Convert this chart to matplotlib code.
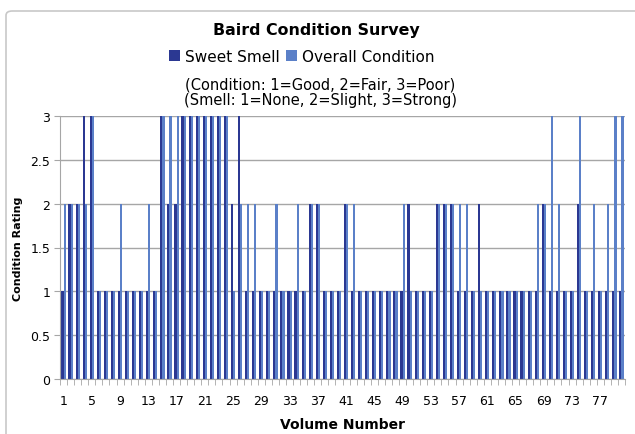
"""
Baird Condition Survey - clustered bar chart of smell and overall condition per volume.
Output: out.png
"""

import numpy as np
import matplotlib
matplotlib.use("Agg")
import matplotlib.pyplot as plt
from matplotlib.patches import FancyBboxPatch

# ─── Data ─────────────────────────────────────────────────────────────────────

volumes = list(range(1, 81))

# 1=None, 2=Slight, 3=Strong
sweet_smell = [
    1, 2, 2, 3, 3, 1, 1, 1, 1, 1,
    1, 1, 1, 1, 3, 2, 2, 3, 3, 3,
    3, 3, 3, 3, 2, 3, 1, 1, 1, 1,
    1, 1, 1, 1, 1, 2, 2, 1, 1, 1,
    2, 1, 1, 1, 1, 1, 1, 1, 1, 2,
    1, 1, 1, 2, 2, 2, 1, 1, 1, 2,
    1, 1, 1, 1, 1, 1, 1, 1, 2, 1,
    1, 1, 1, 2, 1, 1, 1, 1, 1, 1,
]

# 1=Good, 2=Fair, 3=Poor
overall_condition = [
    2, 2, 2, 2, 3, 1, 1, 1, 2, 1,
    1, 1, 2, 1, 3, 3, 3, 3, 3, 3,
    3, 3, 3, 3, 1, 2, 2, 2, 1, 1,
    2, 1, 1, 2, 1, 2, 2, 1, 1, 1,
    2, 2, 1, 1, 1, 1, 1, 1, 2, 1,
    1, 1, 1, 2, 2, 2, 2, 2, 1, 1,
    1, 1, 1, 1, 1, 1, 1, 2, 2, 3,
    2, 1, 1, 3, 1, 2, 1, 2, 3, 3,
]

x_tick_labels = [str(v) for v in range(1, 80, 4)]
y_ticks = [0, 0.5, 1, 1.5, 2, 2.5, 3]

SMELL_COLOR = "#2b3892"
COND_COLOR = "#5b80c8"
GRID_COLOR = "#a6a6a6"

# ─── Figure ───────────────────────────────────────────────────────────────────

W, H = 635, 435
fig = plt.figure(figsize=(W / 100, H / 100), dpi=100)

# outer chart border
fig.patches.append(FancyBboxPatch(
    (6 / W, -0.05), 1.1, 1.05 - 12 / H, boxstyle="round,pad=0,rounding_size=0.01",
    transform=fig.transFigure, fill=False, edgecolor="#c8c8c8", linewidth=1.2,
))

ax = fig.add_axes([60 / W, 1 - 380 / H, 565 / W, 263 / H])

x = np.arange(len(volumes))
w = 1 / 3.3
ax.bar(x - w / 2, sweet_smell, w, color=SMELL_COLOR, label="Sweet Smell", zorder=3)
ax.bar(x + w / 2, overall_condition, w, color=COND_COLOR, label="Overall Condition", zorder=3)

ax.set_xlim(-0.5, len(volumes) - 0.5)
ax.set_ylim(0, 3)

# labels at every 4th volume, tick marks between categories
label_pos = [volumes.index(int(t)) for t in x_tick_labels]
ax.set_xticks(label_pos)
ax.set_xticklabels(x_tick_labels, fontsize=9)
ax.set_xticks(np.arange(len(volumes) + 1) - 0.5, minor=True)
ax.tick_params(axis="x", which="major", length=0, pad=11)
ax.tick_params(axis="x", which="minor", length=4, color=GRID_COLOR)

ax.set_yticks(y_ticks)
ax.set_yticklabels([f"{t:g}" for t in y_ticks], fontsize=9)
ax.tick_params(axis="y", length=4, color=GRID_COLOR, pad=3)

ax.grid(axis="y", color=GRID_COLOR, linewidth=1, zorder=0)
for s in ["top", "right"]:
    ax.spines[s].set_visible(False)
for s in ["left", "bottom"]:
    ax.spines[s].set_color(GRID_COLOR)
    ax.spines[s].set_zorder(4)

ax.set_xlabel("Volume Number", fontsize=10, fontweight="bold", labelpad=7)
ax.set_ylabel("Condition Rating", fontsize=8, fontweight="bold", labelpad=5)

# ─── Titles / legend ──────────────────────────────────────────────────────────

fig.text(0.4985, 1 - 31 / H, "Baird Condition Survey", ha="center", va="center",
         fontsize=11.4, fontweight="bold")
fig.legend(loc="center", bbox_to_anchor=(0.475, 1 - 57 / H), ncol=2, frameon=False,
           fontsize=11, handlelength=0.75, handleheight=0.75, handletextpad=0.3,
           columnspacing=0.4)
fig.text(0.504, 1 - 85 / H, "(Condition: 1=Good, 2=Fair, 3=Poor)", ha="center",
         va="center", fontsize=10.5)
fig.text(0.504, 1 - 101 / H, "(Smell: 1=None, 2=Slight, 3=Strong)", ha="center",
         va="center", fontsize=10.5)

fig.savefig("out.png", dpi=100)
